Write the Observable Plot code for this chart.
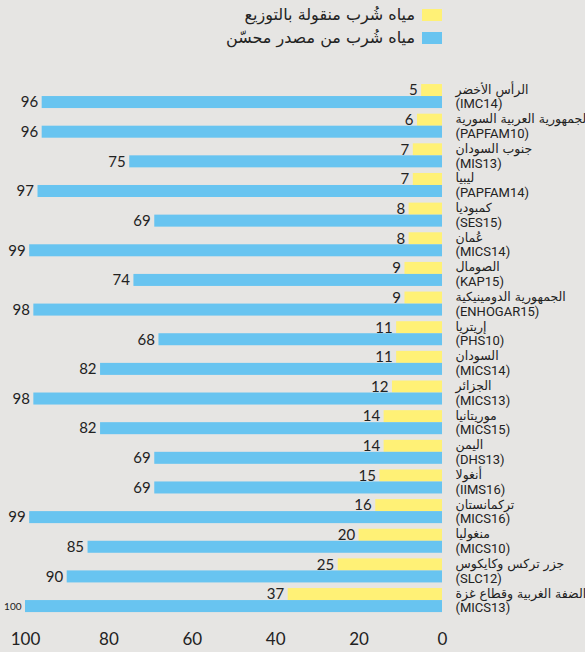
<!DOCTYPE html>
<html>
<head>
<meta charset="utf-8">
<script src="https://cdn.jsdelivr.net/npm/d3@7"></script>
<script src="https://cdn.jsdelivr.net/npm/@observablehq/plot@0.6"></script>
<style>
  html, body { margin: 0; padding: 0; background: #e6e5e3; }
  body { width: 585px; height: 652px; overflow: hidden; font-family: "Noto Sans", "DejaVu Sans", sans-serif; color: #222; }
  #legend { position: relative; height: 60px; width: 585px; }
  .lg { position: absolute; right: 143px; display: flex; align-items: center; gap: 7px; font-size: 16px; font-family: "DejaVu Sans", sans-serif; }
  .sw { width: 20px; height: 12px; display: inline-block; }
  #chart svg { display: block; }
</style>
</head>
<body>
<div id="legend"></div>
<div id="chart"></div>
<script>
const countries = ["الرأس الأخضر","الجمهورية العربية السورية","جنوب السودان","ليبيا","كمبوديا","عُمان","الصومال","الجمهورية الدومينيكية","إريتريا","السودان","الجزائر","موريتانيا","اليمن","أنغولا","تركمانستان","منغوليا","جزر تركس وكايكوس","الضفة الغربية وقطاع غزة"];
const codes = ["(IMC14)","(PAPFAM10)","(MIS13)","(PAPFAM14)","(SES15)","(MICS14)","(KAP15)","(ENHOGAR15)","(PHS10)","(MICS14)","(MICS13)","(MICS15)","(DHS13)","(IIMS16)","(MICS16)","(MICS10)","(SLC12)","(MICS13)"];
const piped = [5,6,7,7,8,8,9,9,11,11,12,14,14,15,16,20,25,37];
const improved = [96,96,75,97,69,99,74,98,68,82,98,82,69,69,99,85,90,100];
const seriesKeys = ["piped","improved"];
const seriesLabels = ["مياه شُرب منقولة بالتوزيع","مياه شُرب من مصدر محسّن"];
const seriesColors = ["#fff176","#68c4f0"];
const xTicks = [0,20,40,60,80,100];

const rows = countries.flatMap((c,i) => [
  {country:c, series:"piped", value:piped[i]},
  {country:c, series:"improved", value:improved[i]}
]);
const nameRows = countries.map(c => ({country:c, series:"piped", label:c}));
const codeRows = countries.map((c,i) => ({country:c, series:"improved", label:codes[i]}));

// legend
const legend = document.getElementById("legend");
seriesKeys.forEach((k,i) => {
  const d = document.createElement("div");
  d.className = "lg";
  d.style.top = (i === 0 ? 5 : 28) + "px";
  d.innerHTML = `<span>${seriesLabels[i]}</span><span class="sw" style="background:${seriesColors[i]}"></span>`;
  legend.appendChild(d);
});

const chart = Plot.plot({
  width: 585,
  height: 592,
  marginLeft: 25,
  marginRight: 143,
  marginTop: 18.4,
  marginBottom: 34.3,
  style: {background: "transparent", color: "#222", fontFamily: "'Noto Sans','DejaVu Sans',sans-serif", overflow: "visible"},
  x: {domain: [0,100], reverse: true, axis: null},
  y: {domain: seriesKeys, padding: 0, axis: null, round: false},
  fy: {domain: countries, paddingInner: 0.19, paddingOuter: 0.19, axis: null, round: false},
  color: {domain: seriesKeys, range: seriesColors},
  marks: [
    Plot.barX(rows, {x: "value", y: "series", fy: "country", fill: "series"}),
    Plot.text(rows, {x: "value", y: "series", fy: "country", text: d => String(d.value), textAnchor: "end", dx: -4, fontSize: d => d.value === 100 ? 10 : 15, fontFamily: "Lato, 'Noto Sans', sans-serif", fill: "#222"}),
    Plot.text(nameRows, {x: 0, y: "series", fy: "country", text: "label", textAnchor: "start", dx: 13, dy: -1, fontSize: 12.5, fontFamily: "'DejaVu Sans', sans-serif", fill: "#222"}),
    Plot.text(codeRows, {x: 0, y: "series", fy: "country", text: "label", textAnchor: "start", dx: 13, dy: 1.5, fontSize: 13, fontFamily: "Roboto, 'DejaVu Sans', sans-serif", fill: "#222"}),
    Plot.axisX({ticks: xTicks, tickSize: 0, tickPadding: 20, fontSize: 17, fontFamily: "Lato, 'Noto Sans', sans-serif", tickFormat: d => String(d), label: null})
  ]
});
document.getElementById("chart").appendChild(chart);
</script>
</body>
</html>
